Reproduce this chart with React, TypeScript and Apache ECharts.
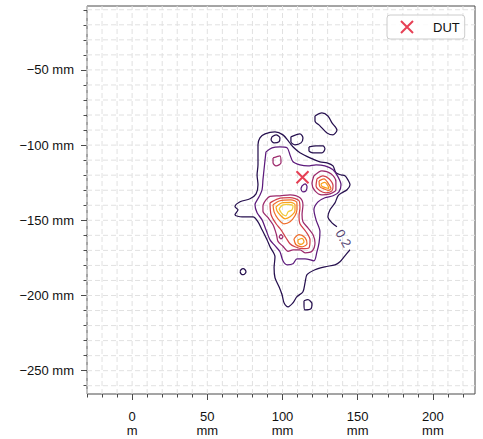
import React, { useEffect, useRef } from "react";
import * as echarts from "echarts";

const FONT = "'Liberation Sans', Arial, Helvetica, sans-serif";

// Axis ticks (mm)
const xMinorTicks = [-30, -20, -10, 0, 10, 20, 30, 40, 50, 60, 70, 80, 90, 100, 110, 120, 130, 140, 150, 160, 170, 180, 190, 200, 210, 220];
const xMajorTicks = [0, 50, 100, 150, 200];
const xTickLabels = ["0\nm", "50\nmm", "100\nmm", "150\nmm", "200\nmm"];
const yMinorTicks = [-260, -250, -240, -230, -220, -210, -200, -190, -180, -170, -160, -150, -140, -130, -120, -110, -100, -90, -80, -70, -60, -50, -40, -30, -20, -10];
const yMajorTicks = [-250, -200, -150, -100, -50];
const yTickLabels = ["\u2212250 mm", "\u2212200 mm", "\u2212150 mm", "\u2212100 mm", "\u221250 mm"];

// Contour levels and colours
const levelValues = [0.2, 0.4, 0.6, 0.8, 1.0, 1.2, 1.4];
const levelColors = ["#26104f", "#5c1a7c", "#9c2a6c", "#d2434c", "#ef6e2c", "#f9a11c", "#f2cc3c"];

// DUT position (mm)
const dutPoint = [113.3, -121.4];
// Contour label (level 0.2)
const label02Point = [140.5, -162.0];
const label02Text = "0.2";

// Level 0.2 contours
const c02Main = [
  [144.9, -169.6], [141.5, -173.6], [138.2, -177.6], [134.9, -179.6], [128.2, -180.9], [121.6, -182.9],
  [116.3, -186.2], [115.0, -191.5], [113.6, -197.5], [109.6, -200.8], [107.0, -204.8], [103.7, -207.5],
  [101.0, -204.8], [99.7, -199.5], [97.7, -194.2], [95.0, -188.2], [94.4, -181.6], [95.0, -174.3],
  [91.7, -167.6], [89.7, -163.0], [86.4, -156.3], [83.7, -151.0], [80.4, -147.7], [73.1, -147.7],
  [68.4, -146.3], [70.4, -143.0], [68.4, -141.0], [71.8, -137.7], [78.4, -135.7], [82.4, -132.4],
  [83.7, -126.4], [83.1, -119.8], [83.7, -113.1], [83.7, -106.5], [83.7, -99.8], [85.0, -95.2],
  [88.4, -92.5], [95.0, -91.2], [100.3, -93.2], [104.3, -97.8], [107.6, -101.8], [111.6, -105.1],
  [118.3, -108.5], [124.9, -111.1], [129.6, -111.8], [133.6, -113.8], [135.5, -118.4], [138.9, -119.8],
  [141.5, -120.4], [143.5, -123.1], [144.9, -126.4], [142.9, -129.7], [139.5, -131.7], [136.9, -133.7],
  [134.9, -138.4], [131.6, -143.0], [130.2, -147.7], [132.9, -151.7], [136.2, -154.3],
];
const c02IslandTopRight = [
  [121.6, -80.6], [126.2, -78.6], [130.2, -80.6], [132.9, -85.2], [136.2, -89.9], [133.6, -93.2],
  [129.6, -91.9], [124.9, -87.2], [121.6, -83.9], [121.6, -80.6],
];
const c02IslandMid = [
  [117.6, -101.2], [122.3, -100.5], [126.9, -100.5], [128.2, -102.5], [126.2, -105.1], [120.3, -105.1],
  [117.6, -103.8], [117.6, -101.2],
];
const c02IslandBox = [
  [105.6, -94.5], [111.6, -92.5], [113.6, -95.2], [112.3, -98.5], [108.3, -99.8], [105.6, -97.8], [105.6, -94.5],
];
const c02IslandSmall = [
  [71.8, -184.2], [72.4, -182.9], [73.8, -182.2], [75.1, -182.9], [75.7, -184.2], [75.1, -185.5],
  [73.8, -186.2], [72.4, -185.5], [71.8, -184.2],
];
const c02IslandBottom = [
  [114.3, -203.5], [116.9, -202.8], [119.6, -205.5], [118.9, -208.8], [114.9, -209.5], [114.3, -206.1], [114.3, -203.5],
];
const c02HoleNorth = [
  [93.0, -94.5], [95.7, -93.2], [98.3, -95.2], [97.7, -97.8], [94.4, -98.5], [92.4, -96.5], [93.0, -94.5],
];

// Level 0.4 contours
const c04Main = [
  [89.0, -104.5], [93.0, -101.8], [98.3, -101.2], [103.0, -101.8], [105.0, -106.5], [107.0, -111.1],
  [111.6, -113.1], [116.9, -113.8], [122.3, -113.1], [128.2, -113.8], [133.6, -116.4], [136.9, -121.1],
  [138.9, -126.4], [137.5, -131.1], [133.6, -133.7], [128.2, -135.0], [123.6, -137.7], [120.9, -143.0],
  [122.3, -149.7], [124.9, -157.6], [124.3, -165.0], [122.9, -170.9], [120.9, -176.9], [115.0, -175.6],
  [109.6, -175.6], [107.0, -178.9], [103.0, -179.6], [100.3, -176.9], [98.3, -170.9], [95.0, -166.9],
  [91.7, -163.0], [89.0, -156.3], [86.4, -149.7], [83.1, -145.0], [81.7, -139.7], [84.4, -134.4],
  [86.4, -129.7], [87.0, -123.1], [87.7, -116.4], [88.4, -109.8], [89.0, -104.5],
];
const c04Hole = [
  [113.0, -127.1], [115.0, -125.7], [116.3, -127.7], [115.6, -130.4], [113.6, -131.1], [112.3, -129.1], [113.0, -127.1],
];

// Level 0.6 contours
const c06North = [
  [93.7, -108.5], [98.3, -107.1], [99.0, -111.8], [95.7, -113.8], [93.7, -111.8], [93.7, -108.5],
];
const c06East = [
  [120.9, -120.4], [126.2, -117.1], [132.2, -119.1], [135.5, -124.4], [135.5, -129.7], [131.6, -132.4],
  [126.2, -133.1], [121.6, -130.4], [119.6, -125.7], [120.9, -120.4],
];
const c06Central = [
  [89.0, -136.4], [91.7, -134.1], [98.3, -133.7], [105.0, -133.1], [111.6, -135.0], [113.6, -139.7],
  [113.0, -146.3], [113.6, -151.0], [116.9, -155.0], [120.3, -159.6], [121.6, -165.0], [119.6, -170.6],
  [115.0, -171.6], [111.6, -169.6], [107.0, -169.6], [103.7, -170.6], [100.3, -167.3], [97.0, -164.0],
  [96.0, -159.6], [93.7, -153.0], [90.4, -148.3], [87.0, -144.0], [87.0, -140.4], [89.0, -136.4],
];
const c06Small = [
  [97.7, -161.0], [99.0, -159.6], [100.3, -161.0], [99.0, -162.3], [97.7, -161.0],
];

// Level 0.8 contours
const c08East = [
  [122.9, -122.4], [126.9, -120.4], [130.9, -122.4], [133.6, -127.1], [132.9, -130.4], [128.9, -131.7],
  [124.9, -130.4], [122.3, -127.1], [122.9, -122.4],
];
const c08Central = [
  [91.7, -138.4], [97.0, -135.7], [105.0, -135.0], [111.0, -137.0], [111.6, -141.7], [111.0, -147.0],
  [111.6, -152.3], [115.6, -157.6], [118.3, -163.0], [117.6, -168.3], [113.0, -168.9], [108.3, -167.6],
  [105.0, -165.6], [102.3, -161.6], [99.0, -156.3], [95.7, -152.3], [92.4, -146.3], [91.7, -138.4],
];

// Level 1.0 contours
const c10East = [
  [124.3, -123.8], [127.6, -122.4], [130.2, -125.1], [132.2, -129.1], [130.2, -130.1], [127.6, -129.1],
  [124.9, -127.7], [124.3, -123.8],
];
const c10Upper = [
  [93.7, -139.7], [98.3, -137.0], [105.6, -136.4], [109.6, -138.4], [109.6, -143.0], [108.3, -147.0],
  [105.0, -151.0], [101.0, -152.3], [97.0, -149.0], [94.4, -144.4], [93.7, -139.7],
];
const c10Lower = [
  [107.6, -162.3], [111.0, -159.6], [115.0, -161.6], [116.3, -165.6], [113.0, -167.6], [109.0, -166.3], [107.6, -162.3],
];

// Level 1.2 contours
const c12East = [
  [125.6, -125.7], [128.2, -124.8], [130.2, -127.1], [130.9, -128.7], [128.9, -128.4], [126.2, -127.4], [125.6, -125.7],
];
const c12Upper = [
  [95.7, -141.0], [99.7, -138.4], [105.6, -138.1], [108.3, -139.7], [108.3, -143.7], [105.0, -147.7],
  [101.7, -149.0], [98.3, -146.3], [96.3, -143.7], [95.7, -141.0],
];
const c12Lower = [
  [110.3, -163.0], [113.0, -162.0], [114.3, -164.3], [112.3, -166.0], [110.3, -165.0], [110.3, -163.0],
];

// Level 1.4 contours
const c14Upper = [
  [97.7, -142.4], [100.3, -139.7], [103.7, -139.4], [107.0, -140.4], [106.3, -143.0], [103.7, -144.4],
  [102.3, -147.0], [99.7, -145.7], [97.7, -142.4],
];

const contourLines = [
  { level: 0, points: c02Main },
  { level: 0, points: c02IslandTopRight },
  { level: 0, points: c02IslandMid },
  { level: 0, points: c02IslandBox },
  { level: 0, points: c02IslandSmall },
  { level: 0, points: c02IslandBottom },
  { level: 0, points: c02HoleNorth },
  { level: 1, points: c04Main },
  { level: 1, points: c04Hole },
  { level: 2, points: c06North },
  { level: 2, points: c06East },
  { level: 2, points: c06Central },
  { level: 2, points: c06Small },
  { level: 3, points: c08East },
  { level: 3, points: c08Central },
  { level: 4, points: c10East },
  { level: 4, points: c10Upper },
  { level: 4, points: c10Lower },
  { level: 5, points: c12East },
  { level: 5, points: c12Upper },
  { level: 5, points: c12Lower },
  { level: 6, points: c14Upper },
];

const X_MIN = -30;
const X_MAX = 228;
const Y_MIN = -265.5;
const Y_MAX = -7.5;

export default function App() {
  const ref = useRef<HTMLDivElement>(null);

  useEffect(() => {
    if (!ref.current) return;
    const chart = echarts.init(ref.current, undefined, { renderer: "svg" });

    const axisColor = "#4a4a4a";
    const textColor = "#111111";
    const gridStyle = { stroke: "#e1e1e1", lineWidth: 1, lineDash: [5, 3] };
    const noLine = { show: false, onZero: false };

    const lineSeries: any[] = contourLines.map((c, i) => ({
      type: "line",
      name: "contour " + levelValues[c.level] + " #" + i,
      data: c.points,
      xAxisIndex: 0,
      yAxisIndex: 0,
      showSymbol: false,
      symbol: "none",
      smooth: 0.3,
      silent: true,
      lineStyle: { color: levelColors[c.level], width: 1.25 },
      z: 3 + c.level,
    }));

    const vGridSeries = {
      type: "custom",
      name: "vgrid",
      silent: true,
      z: 1,
      clip: false,
      data: xMinorTicks.map((v) => [v]),
      encode: { x: 0 },
      renderItem: (params: any, api: any) => {
        const v = api.value(0);
        const p1 = api.coord([v, Y_MIN]);
        const p2 = api.coord([v, Y_MAX]);
        return {
          type: "line",
          shape: { x1: p1[0], y1: p1[1], x2: p2[0], y2: p2[1] },
          style: gridStyle,
        };
      },
    };
    const hGridSeries = {
      type: "custom",
      name: "hgrid",
      silent: true,
      z: 1,
      clip: false,
      data: yMinorTicks.map((v) => [0, v]),
      encode: { y: 1 },
      renderItem: (params: any, api: any) => {
        const v = api.value(1);
        const p1 = api.coord([X_MIN, v]);
        const p2 = api.coord([X_MAX, v]);
        return {
          type: "line",
          shape: { x1: p1[0], y1: p1[1], x2: p2[0], y2: p2[1] },
          style: gridStyle,
        };
      },
    };

    chart.setOption({
      animation: false,
      backgroundColor: "#ffffff",
      textStyle: { fontFamily: FONT },
      grid: {
        left: 87,
        top: 6,
        width: 388,
        height: 388,
        show: true,
        borderColor: axisColor,
        borderWidth: 1,
        backgroundColor: "transparent",
      },
      legend: {
        data: ["DUT"],
        left: 387,
        top: 15,
        padding: [5, 5, 5, 13],
        itemWidth: 26,
        itemHeight: 12,
        borderColor: "#cccccc",
        borderWidth: 1,
        borderRadius: 3,
        backgroundColor: "rgba(255,255,255,0.85)",
        textStyle: { fontSize: 13, color: textColor, fontFamily: FONT, padding: [0, 0, 0, 8] },
      },
      xAxis: [
        {
          type: "value",
          min: X_MIN,
          max: X_MAX,
          position: "bottom",
          axisLine: noLine,
          axisTick: { show: true, customValues: xMinorTicks, length: 3.5, lineStyle: { color: axisColor } },
          axisLabel: { show: false },
          splitLine: { show: false },
        },
        {
          type: "value",
          min: X_MIN,
          max: X_MAX,
          position: "bottom",
          axisLine: noLine,
          axisTick: { show: true, customValues: xMajorTicks, length: 6, lineStyle: { color: axisColor } },
          axisLabel: {
            show: true,
            customValues: xMajorTicks,
            margin: 15,
            fontSize: 13,
            lineHeight: 14.5,
            color: textColor,
            fontFamily: FONT,
            formatter: (v: number) => {
              const i = xMajorTicks.indexOf(v);
              return i >= 0 ? xTickLabels[i] : "";
            },
          },
          splitLine: { show: false },
        },
      ],
      yAxis: [
        {
          type: "value",
          min: Y_MIN,
          max: Y_MAX,
          position: "left",
          axisLine: noLine,
          axisTick: { show: true, customValues: yMinorTicks, length: 3.5, lineStyle: { color: axisColor } },
          axisLabel: { show: false },
          splitLine: { show: false },
        },
        {
          type: "value",
          min: Y_MIN,
          max: Y_MAX,
          position: "left",
          axisLine: noLine,
          axisTick: { show: true, customValues: yMajorTicks, length: 6, lineStyle: { color: axisColor } },
          axisLabel: {
            show: true,
            customValues: yMajorTicks,
            margin: 13,
            fontSize: 13,
            color: textColor,
            fontFamily: FONT,
            formatter: (v: number) => {
              const i = yMajorTicks.indexOf(v);
              return i >= 0 ? yTickLabels[i] : "";
            },
          },
          splitLine: { show: false },
        },
      ],
      series: [
        vGridSeries,
        hGridSeries,
        ...lineSeries,
        {
          type: "scatter",
          name: "contour label",
          data: [label02Point],
          symbol: "circle",
          symbolSize: 1,
          silent: true,
          itemStyle: { color: "rgba(0,0,0,0)" },
          label: {
            show: true,
            position: "inside",
            formatter: label02Text,
            rotate: -60,
            fontSize: 13,
            color: levelColors[0],
            fontFamily: FONT,
          },
          z: 10,
        },
        {
          type: "scatter",
          name: "DUT",
          data: [dutPoint],
          symbol: "path://M0,0L10,10M10,0L0,10",
          symbolSize: 12,
          itemStyle: { color: "rgba(0,0,0,0)", borderColor: "#e0102b", borderWidth: 2 },
          z: 20,
        },
      ],
    });

    return () => {
      chart.dispose();
    };
  }, []);

  return (
    <div
      ref={ref}
      style={{ position: "absolute", left: 0, top: 0, width: 483, height: 439 }}
    />
  );
}
